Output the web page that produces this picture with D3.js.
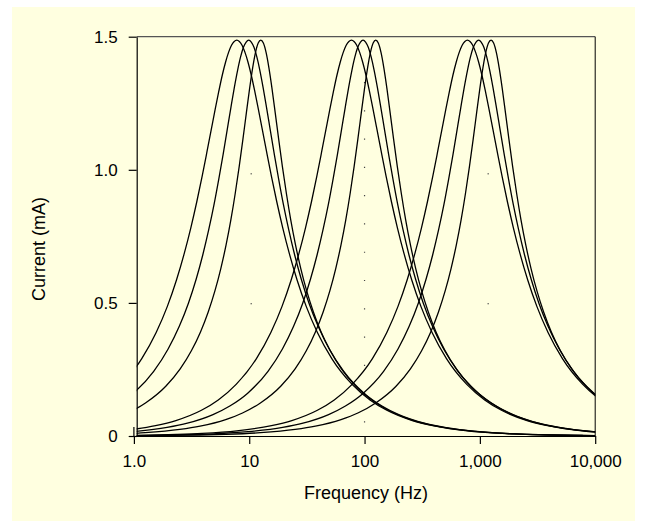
<!DOCTYPE html>
<html>
<head>
<meta charset="utf-8">
<script src="https://cdn.jsdelivr.net/npm/d3@7"></script>
<style>
  body { margin: 0; background: #fff; }
  text { font-family: "Liberation Sans", Arial, sans-serif; }
</style>
</head>
<body>
<svg id="chart" width="647" height="528"></svg>
<script>
// frequency relative to each curve's resonance (f / f0)
const ratio = [0.001, 0.003, 0.005, 0.01, 0.02, 0.03, 0.05, 0.07, 0.1, 0.15, 0.2, 0.25, 0.3, 0.35, 0.4, 0.45, 0.5,
    0.55, 0.6, 0.65, 0.7, 0.75, 0.8, 0.85, 0.9, 0.95, 1,
    1.0526, 1.111, 1.176, 1.25, 1.333, 1.4286, 1.538, 1.667, 1.818, 2, 2.222, 2.5, 2.857, 3.333, 4, 5,
    6.667, 10, 14.29, 20, 33.3, 50, 100, 200, 333, 1000];

// current (mA): lowest, middle and highest resonance of each group
const currentLow = [0.00193, 0.0058, 0.00967, 0.0193, 0.0387, 0.058, 0.0967, 0.1355, 0.194, 0.291, 0.389, 0.487, 0.586,
    0.685, 0.783, 0.880, 0.974, 1.065, 1.150, 1.228, 1.297, 1.357, 1.405, 1.442, 1.468, 1.482, 1.487,
    1.482, 1.468, 1.442, 1.405, 1.357, 1.297, 1.228, 1.150, 1.065, 0.974, 0.880, 0.783, 0.685, 0.586, 0.487, 0.389,
    0.291, 0.194, 0.1355, 0.0967, 0.058, 0.0387, 0.0193, 0.00967, 0.0058, 0.00193];
const currentMid = [0.00161, 0.00482, 0.00804, 0.0161, 0.0322, 0.0482, 0.0805, 0.1127, 0.161, 0.243, 0.327, 0.412, 0.499,
    0.589, 0.681, 0.775, 0.869, 0.965, 1.058, 1.149, 1.233, 1.309, 1.373, 1.424, 1.460, 1.480, 1.487,
    1.480, 1.460, 1.424, 1.373, 1.309, 1.233, 1.149, 1.058, 0.965, 0.869, 0.775, 0.681, 0.589, 0.499, 0.412, 0.327,
    0.243, 0.161, 0.1127, 0.0805, 0.0482, 0.0322, 0.0161, 0.00804, 0.00482, 0.00161];
const currentHigh = [0.00123, 0.00369, 0.00614, 0.0123, 0.0246, 0.0369, 0.0616, 0.0863, 0.124, 0.187, 0.252, 0.320, 0.391,
    0.466, 0.545, 0.629, 0.718, 0.812, 0.911, 1.013, 1.115, 1.215, 1.306, 1.383, 1.441, 1.476, 1.487,
    1.476, 1.441, 1.383, 1.306, 1.215, 1.115, 1.013, 0.911, 0.812, 0.718, 0.629, 0.545, 0.466, 0.391, 0.320, 0.252,
    0.187, 0.124, 0.0863, 0.0616, 0.0369, 0.0246, 0.0123, 0.00614, 0.00369, 0.00123];

// resonance frequencies (Hz), three groups of three
const peaksLow = [7.8, 77, 780];
const peaksMid = [9.9, 97, 975];
const peaksHigh = [12.6, 125, 1250];

const xTicks = [1, 10, 100, 1000, 10000];
const xTickLabels = ["1.0", "10", "100", "1,000", "10,000"];
const yTicks = [0, 0.5, 1.0, 1.5];
const yTickLabels = ["0", "0.5", "1.0", "1.5"];

// faint marker dots
const dotColumn = { f: 100, top: 1.33, bottom: 0.055 };
const dots = [
    { f: 10.4, i: 0.985 }, { f: 10.4, i: 0.497 },
    { f: 1180, i: 0.985 }, { f: 1180, i: 0.497 }
];

const svg = d3.select("#chart");
const font = '"Liberation Sans", Arial, sans-serif';

svg.append("rect")
    .attr("x", 12).attr("y", 7)
    .attr("width", 623).attr("height", 514)
    .attr("fill", "#ffffe0");

const x = d3.scaleLog().domain([1, 10000]).range([133.9, 595.2]);
const y = d3.scaleLinear().domain([0, 1.5]).range([436, 36.7]);
const plotLeft = 136.7;
const plotRight = x(10000);

svg.append("clipPath").attr("id", "plotClip")
    .append("rect")
    .attr("x", plotLeft).attr("y", 20)
    .attr("width", plotRight - plotLeft).attr("height", 420);

// dots
svg.append("line")
    .attr("x1", x(dotColumn.f)).attr("x2", x(dotColumn.f))
    .attr("y1", y(dotColumn.top)).attr("y2", y(dotColumn.bottom) + 1.2)
    .attr("stroke", "#444")
    .attr("stroke-width", 1.2)
    .attr("stroke-dasharray", "1.2 27.08");

svg.selectAll(".dot")
    .data(dots)
    .enter().append("rect")
    .attr("class", "dot")
    .attr("x", d => x(d.f) - 0.6)
    .attr("y", d => y(d.i) - 0.6)
    .attr("width", 1.2).attr("height", 1.2)
    .attr("fill", "#444");

// curves
const series = [];
[[peaksLow, currentLow], [peaksMid, currentMid], [peaksHigh, currentHigh]].forEach(([peaks, current]) => {
    peaks.forEach(f0 => {
        series.push(ratio.map((r, k) => ({ f: r * f0, i: current[k] })));
    });
});

const line = d3.line()
    .x(d => x(d.f))
    .y(d => y(d.i))
    .curve(d3.curveMonotoneX);

svg.append("g")
    .attr("clip-path", "url(#plotClip)")
    .selectAll("path")
    .data(series)
    .enter().append("path")
    .attr("d", line)
    .attr("fill", "none")
    .attr("stroke", "#000")
    .attr("stroke-width", 1.3);

// frame
svg.append("line")
    .attr("x1", plotLeft).attr("x2", plotRight)
    .attr("y1", y(1.5)).attr("y2", y(1.5))
    .attr("stroke", "#555").attr("stroke-width", 1.2);
svg.append("line")
    .attr("x1", plotRight).attr("x2", plotRight)
    .attr("y1", y(1.5)).attr("y2", y(0))
    .attr("stroke", "#000").attr("stroke-width", 1);

// axes
const xAxis = svg.append("g")
    .attr("transform", `translate(0,${y(0)})`)
    .call(d3.axisBottom(x)
        .tickValues(xTicks)
        .tickFormat((d, k) => xTickLabels[k])
        .tickSize(8)
        .tickSizeOuter(0)
        .tickPadding(11));

const yAxis = svg.append("g")
    .attr("transform", `translate(${plotLeft},0)`)
    .call(d3.axisLeft(y)
        .tickValues(yTicks)
        .tickFormat((d, k) => yTickLabels[k])
        .tickSize(8)
        .tickSizeOuter(0)
        .tickPadding(11));

[xAxis, yAxis].forEach(g => {
    g.attr("font-family", font).attr("font-size", 17).attr("color", "#000");
    g.selectAll("path, line").attr("stroke-width", 1.2);
});

// small upward stub of the first x tick
svg.append("line")
    .attr("x1", x(1)).attr("x2", x(1))
    .attr("y1", y(0) - 9).attr("y2", y(0))
    .attr("stroke", "#000").attr("stroke-width", 1.2);

// axis titles
svg.append("text")
    .attr("x", 366).attr("y", 499)
    .attr("text-anchor", "middle")
    .attr("font-size", 18)
    .text("Frequency (Hz)");

svg.append("text")
    .attr("transform", "translate(45,249) rotate(-90)")
    .attr("text-anchor", "middle")
    .attr("font-size", 18)
    .text("Current (mA)");
</script>
</body>
</html>
